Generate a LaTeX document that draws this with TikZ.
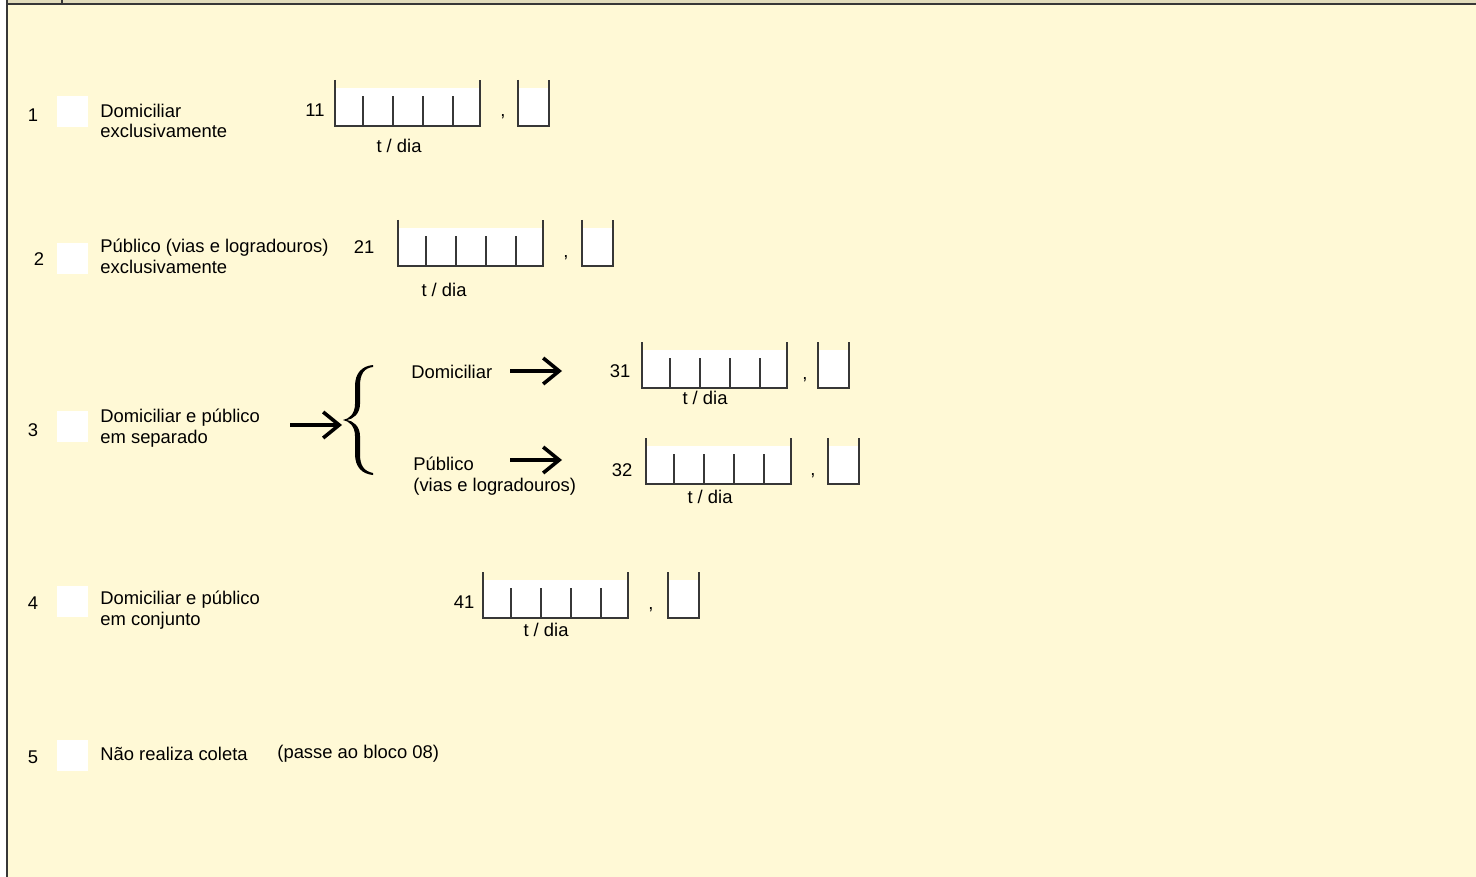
\documentclass[tikz,border=0pt]{standalone}
\usepackage{fontspec}
\setmainfont{Liberation Sans}
\usetikzlibrary{arrows.meta}
\definecolor{fundo}{RGB}{255,249,214}
\definecolor{faixa}{RGB}{226,220,188}
\definecolor{traco}{RGB}{55,55,55}
\begin{document}
\begin{tikzpicture}[x=0.5pt, y=-0.5pt,
	every node/.style={font=\fontsize{9.2}{10.4}\selectfont, inner sep=0pt},
	texto/.style={align=left, anchor=west},
	caixa/.style={fill=white, minimum size=15.5pt},
	campo/.style={fill=white, anchor=north west, minimum width=72pt, minimum height=18.5pt},
	casa/.style={fill=white, anchor=north west, minimum width=15pt, minimum height=18.5pt},
	grade/.style={draw=traco, line width=0.9pt},
	seta/.style={-{Straight Barb[length=8pt, width=13pt]}, line width=1.8pt}]
	\useasboundingbox (0,0) rectangle (1476,877);
	\fill[white] (0,0) rectangle (1476,877);
	\fill[fundo] (7,4) rectangle (1476,877);
	\fill[faixa] (7,0) rectangle (1476,4);
	\draw[traco, line width=1pt] (7,0) -- (7,877);
	\draw[traco, line width=1pt] (7,4) -- (1476,4);
	\draw[traco, line width=1pt] (62,0) -- (62,4);
	
	% numeros e quadrados das opcoes
	\foreach \i/\xn/\yn/\yc in {1/33/115/112, 2/39/259/258, 3/33/430/426, 4/33/603/601, 5/33/757/755}{
		\node (num\i) at (\xn,\yn) {\i};
		\node[caixa] (q\i) at (72,\yc) {};
	}
	
	\node[texto] (t1) at (100,121) {Domiciliar\\exclusivamente};
	\node[texto] (t2) at (100,256) {Público (vias e logradouros)\\exclusivamente};
	\node[texto] (t3) at (100,428) {Domiciliar e público\\em separado};
	\node[texto] (t4) at (100,610) {Domiciliar e público\\em conjunto};
	\node[texto] (t5) at (100,754) {Não realiza coleta};
	\node[texto] (t5b) at (277,754) {(passe ao bloco 08)};
	
	% campos de t / dia
	\foreach \n/\xn/\yn/\x/\y/\xv/\xs/\xt/\yt in {11/315/110/335/80/503/518/399/146, 21/364/247/398/220/566/582/444/290, 31/620/371/642/342/805/818/705/398, 32/622/470/646/438/813/828/710/497, 41/464/602/483/572/651/668/546/630}{
		\node (n\n) at (\xn,\yn) {\n};
		\node[campo] (c\n) at (\x,\y+8) {};
		\node[casa] (d\n) at (\xs,\y+8) {};
		\draw[grade] ([yshift=4pt]c\n.north west) -- (c\n.south west) -- (c\n.south east) -- ([yshift=4pt]c\n.north east);
		\draw[grade] ([yshift=4pt]d\n.north west) -- (d\n.south west) -- (d\n.south east) -- ([yshift=4pt]d\n.north east);
		\foreach \k in {28,58,88,118}
			\draw[grade] ([xshift=\k*0.5pt]c\n.south west) -- ++(0,-30);
		\node[anchor=base] (v\n) at (\xv,\y+37) {,};
		\node (u\n) at (\xt,\yt) {t / dia};
	}
	
	% separado
	\fill[black] (373,365) .. controls (362,366) and (355,373) .. (355,386) -- (355,404)
		.. controls (355,414) and (349,419) .. (343,420) .. controls (349,421) and (355,426) .. (355,436)
		-- (355,454) .. controls (355,467) and (362,474) .. (373,475)
		-- (373,473) .. controls (364,471) and (360,466) .. (360,454) -- (360,436)
		.. controls (360,426) and (353,421) .. (347,420) .. controls (353,419) and (360,414) .. (360,404)
		-- (360,386) .. controls (360,374) and (364,368) .. (373,367) -- cycle;
	\node[texto] (dom) at (411,372) {Domiciliar};
	\node[texto] (pub) at (413,476) {Público\\(vias e logradouros)};
	\coordinate (s3) at (290,425);
	\coordinate (chave) at (342,425);
	\coordinate (sd) at (510,371);
	\coordinate (ed) at (562,371);
	\coordinate (sp) at (510,460);
	\coordinate (ep) at (562,460);
	\draw[seta] (s3) -- (chave);
	\draw[seta] (sd) -- (ed);
	\draw[seta] (sp) -- (ep);
\end{tikzpicture}
\end{document}
